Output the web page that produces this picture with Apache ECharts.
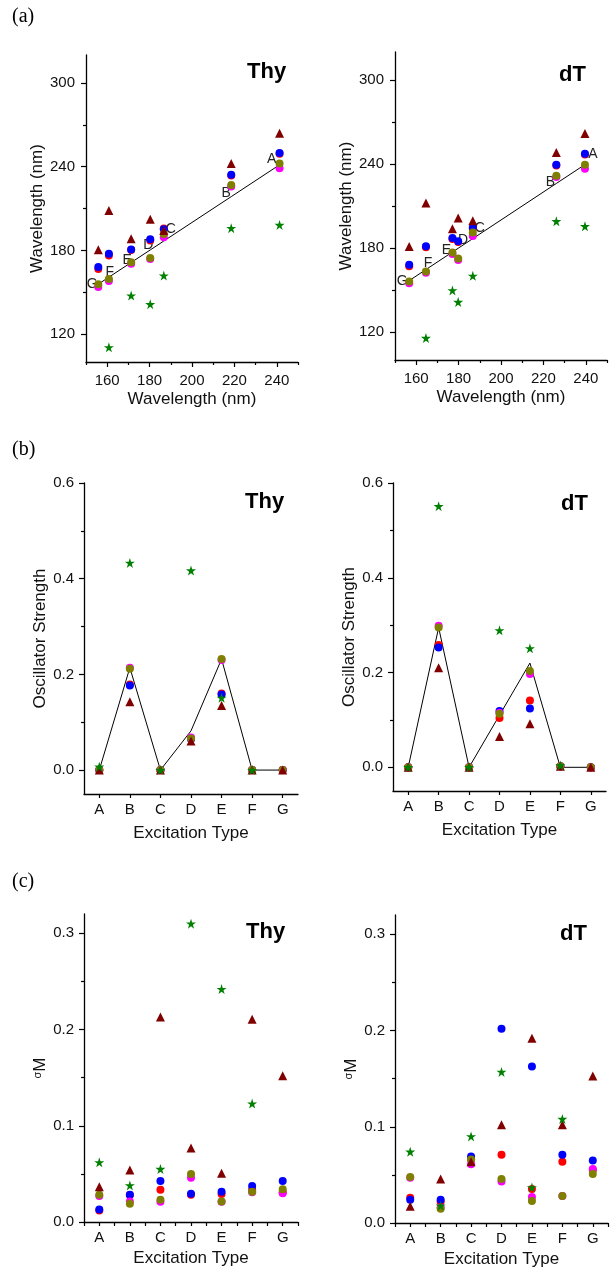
<!DOCTYPE html>
<html>
<head>
<meta charset="utf-8">
<script src="https://cdn.jsdelivr.net/npm/echarts@6.0.0/dist/echarts.min.js"></script>
<style>
html,body{margin:0;padding:0;background:#fff;}
#chart{width:610px;height:1268px;}
</style>
</head>
<body>
<div id="chart"></div>
<script>
// ---------- shared ----------
const cats = ['A', 'B', 'C', 'D', 'E', 'F', 'G'];

// ---------- (a) wavelengths (nm), order A..G ----------
const thyExpWl     = [241.3, 218.5, 186.7, 180.3, 171.3, 160.8, 155.8];
const thyWlRed     = [249.3, 233.6, 195.6, 187.0, 180.2, 176.4, 166.6];
const thyWlBlue    = [249.8, 234.1, 195.2, 188.0, 180.7, 177.6, 168.0];
const thyWlMagenta = [238.9, 225.8, 189.4, 173.8, 170.4, 158.1, 153.8];
const thyWlOlive   = [242.2, 226.8, 191.8, 174.5, 171.4, 159.5, 155.7];
const thyWlTri     = [263.9, 242.2, 194.2, 202.3, 188.3, 208.5, 180.4];
const thyWlStar    = [198.2, 195.9, 161.9, 141.4, 147.6, 110.5, null];

const dtExpWl      = [239.6, 226.1, 186.7, 179.8, 177.1, 164.6, 156.7];
const dtWlRed      = [246.8, 238.9, 193.8, 184.2, 186.5, 180.5, 167.0];
const dtWlBlue     = [247.3, 239.4, 194.6, 184.8, 187.2, 181.3, 168.0];
const dtWlMagenta  = [236.6, 230.7, 188.6, 171.5, 175.8, 162.3, 154.9];
const dtWlOlive    = [239.4, 231.6, 191.0, 172.5, 176.7, 163.2, 156.1];
const dtWlTri      = [261.8, 248.2, 199.5, 201.4, 193.8, 212.1, 181.0];
const dtWlStar     = [195.5, 199.1, 160.1, 141.4, 149.7, 115.7, null];

// ---------- (b) oscillator strength ----------
const thyOscExp     = [0, 0.214, 0, 0.082, 0.232, 0, 0];
const thyOscRed     = [0, 0.179, 0, 0.066, 0.160, 0, 0];
const thyOscBlue    = [0, 0.177, 0, 0.065, 0.158, 0, 0];
const thyOscMagenta = [0, 0.214, 0, 0.068, 0.230, 0, 0];
const thyOscOlive   = [0, 0.212, 0, 0.066, 0.232, 0, 0];
const thyOscTri     = [0, 0.143, 0, 0.061, 0.135, 0, 0];
const thyOscStar    = [0.007, 0.433, 0, 0.417, 0.151, 0, null];

const dtOscExp      = [0, 0.295, 0, 0.110, 0.220, 0, 0];
const dtOscRed      = [0, 0.258, 0, 0.104, 0.141, 0.002, 0];
const dtOscBlue     = [0, 0.253, 0, 0.119, 0.124, 0.002, 0];
const dtOscMagenta  = [0, 0.299, 0, 0.115, 0.197, 0.002, 0];
const dtOscOlive    = [0, 0.295, 0, 0.113, 0.203, 0.002, 0];
const dtOscTri      = [0, 0.210, 0, 0.065, 0.092, 0.002, 0];
const dtOscStar     = [0, 0.551, 0, 0.289, 0.251, 0.004, null];

// ---------- (c) sigma M ----------
const thySigRed     = [0.012, 0.028, 0.0335, 0.0283, 0.029, 0.0335, 0.031];
const thySigBlue    = [0.0131, 0.0283, 0.0425, 0.0293, 0.0314, 0.0373, 0.0425];
const thySigMagenta = [0.027, 0.0214, 0.021, 0.046, 0.021, 0.031, 0.030];
const thySigOlive   = [0.0283, 0.019, 0.023, 0.050, 0.0214, 0.0314, 0.034];
const thySigTri     = [0.0366, 0.054, 0.213, 0.077, 0.0507, 0.2106, 0.152];
const thySigStar    = [0.062, 0.038, 0.055, 0.310, 0.242, 0.123, null];

const dtSigRed      = [0.0263, 0.022, 0.066, 0.071, 0.0353, 0.0637, 0.055];
const dtSigBlue     = [0.0242, 0.0242, 0.069, 0.2017, 0.1626, 0.071, 0.065];
const dtSigMagenta  = [0.047, 0.016, 0.061, 0.043, 0.027, 0.028, 0.056];
const dtSigOlive    = [0.0478, 0.0149, 0.066, 0.0457, 0.0228, 0.028, 0.0509];
const dtSigTri      = [0.0173, 0.0457, 0.0637, 0.102, 0.192, 0.102, 0.1526];
const dtSigStar     = [0.074, 0.018, 0.090, 0.157, 0.037, 0.108, null];

// ---------- ticks ----------
const aMajorX = [160, 180, 200, 220, 240];
const aMinorX = [150, 170, 190, 210, 230, 250];
const aMajorY = [120, 180, 240, 300];
const aMinorY = [150, 210, 270];
const bMajorY = [0, 0.2, 0.4, 0.6];
const bMinorY = [0.1, 0.3, 0.5];
const cMajorY = [0, 0.1, 0.2, 0.3];
const cMinorY = [0.05, 0.15, 0.25];

// ---------- label offsets for letter tags in (a) (styling) ----------
const thyTagOffsets = [[-8, -6], [-5, -3], [7, -12], [-2, -5], [-4, -2], [1, -5], [-6, 0]];
const dtTagOffsets  = [[8, -10], [-6, -1], [7, -10], [5, -8], [-6, -2], [2, -6], [-7, 1]];

// ---------- build ----------
const SANS = 'Liberation Sans, Arial, Helvetica, sans-serif';
const AX = '#000';
const TXT = '#111';
const TICKFS = 15;
const COL = {red: '#ff0000', blue: '#0000ff', magenta: '#ff00ff', olive: '#808000', tri: '#800000', star: '#008000'};
const STAR = 'path://M50,0 L61.2,34.5 L97.6,34.5 L68.2,55.9 L79.4,90.5 L50,69.1 L20.6,90.5 L31.8,55.9 L2.4,34.5 L38.8,34.5 Z';

const option = {
  animation: false,
  backgroundColor: '#ffffff',
  textStyle: {fontFamily: SANS},
  grid: [], xAxis: [], yAxis: [], series: [], title: []
};

function addGrid(l, t, w, h) {
  option.grid.push({left: l, top: t, width: w, height: h, containLabel: false, outerBoundsMode: 'none'});
  return option.grid.length - 1;
}

function valueAxes(dim, gi, min, max, major, minor, fmt, name, nameGap, margin) {
  const arr = dim === 'x' ? option.xAxis : option.yAxis;
  const pos = dim === 'x' ? 'bottom' : 'left';
  arr.push({
    type: 'value', gridIndex: gi, min: min, max: max, position: pos,
    axisLine: {show: true, onZero: false, lineStyle: {color: AX, width: 1.3}},
    axisTick: {show: true, customValues: major, length: 5, lineStyle: {color: AX, width: 1.2}},
    axisLabel: {show: true, customValues: major, formatter: fmt, fontSize: TICKFS, color: TXT, margin: margin, fontFamily: SANS},
    splitLine: {show: false}, minorTick: {show: false},
    name: name, nameLocation: 'middle', nameGap: nameGap,
    nameTextStyle: {fontSize: 17, color: TXT, fontFamily: SANS,
      rich: {s: {fontSize: 11, verticalAlign: 'top', color: TXT, fontFamily: SANS}, m: {fontSize: 17, color: TXT, fontFamily: SANS}}}
  });
  const idx = arr.length - 1;
  arr.push({
    type: 'value', gridIndex: gi, min: min, max: max, position: pos,
    axisLine: {show: false, onZero: false},
    axisTick: {show: true, customValues: minor, length: 3, lineStyle: {color: AX, width: 1.2}},
    axisLabel: {show: false}, splitLine: {show: false}
  });
  return idx;
}

function catAxes(gi, boundaryTicks, name, nameGap) {
  option.xAxis.push({
    type: 'category', gridIndex: gi, data: cats, boundaryGap: true, position: 'bottom',
    axisLine: {show: true, onZero: false, lineStyle: {color: AX, width: 1.3}},
    axisTick: {show: true, alignWithLabel: true, interval: 0, length: 4, lineStyle: {color: AX, width: 1.2}},
    axisLabel: {interval: 0, fontSize: TICKFS, color: TXT, margin: 8, fontFamily: SANS},
    splitLine: {show: false},
    name: name, nameLocation: 'middle', nameGap: nameGap,
    nameTextStyle: {fontSize: 17, color: TXT, fontFamily: SANS}
  });
  const idx = option.xAxis.length - 1;
  if (boundaryTicks) {
    option.xAxis.push({
      type: 'category', gridIndex: gi, data: cats, boundaryGap: true, position: 'bottom',
      axisLine: {show: false, onZero: false},
      axisTick: {show: true, alignWithLabel: false, interval: 0, length: 4, lineStyle: {color: AX, width: 1.2}},
      axisLabel: {show: false}, splitLine: {show: false}
    });
  }
  return idx;
}

function scatter(xi, yi, data, kind) {
  let symbol = 'circle', size = 8;
  if (kind === 'tri') { symbol = 'triangle'; size = 9; }
  if (kind === 'star') { symbol = STAR; size = 10; }
  option.series.push({
    type: 'scatter', xAxisIndex: xi, yAxisIndex: yi, data: data,
    symbol: symbol, symbolSize: size, itemStyle: {color: COL[kind], opacity: 1},
    emphasis: {disabled: true}, silent: true
  });
}

function pairData(xs, ys) {
  const out = [];
  xs.forEach((x, i) => { if (ys[i] !== null && ys[i] !== undefined) out.push([x, ys[i]]); });
  return out;
}
function catData(ys) {
  return ys.map(v => (v === null || v === undefined) ? '-' : v);
}

function addTitle(text, left, top, font, size, weight) {
  option.title.push({text: text, left: left, top: top, padding: 0,
    textStyle: {fontFamily: font, fontSize: size, fontWeight: weight, color: '#000'}});
}

// ---------- panel (a) ----------
function panelA(l, t, w, h, exp, sets, offsets, yGap) {
  const gi = addGrid(l, t, w, h);
  const xi = valueAxes('x', gi, 150, 250, aMajorX, aMinorX, v => String(v), 'Wavelength (nm)', 29, 11);
  const yi = valueAxes('y', gi, 100, 320, aMajorY, aMinorY, v => String(v), 'Wavelength (nm)', yGap, 11);
  option.series.push({
    type: 'line', xAxisIndex: xi, yAxisIndex: yi,
    data: exp.map((x, i) => ({
      value: [x, x],
      label: {show: true, position: 'inside', offset: offsets[i], formatter: cats[i],
        fontSize: 14, color: '#222', fontFamily: SANS}
    })),
    symbol: 'circle', symbolSize: 1, showSymbol: true,
    itemStyle: {color: 'rgba(0,0,0,0)'},
    lineStyle: {color: '#000', width: 1}, silent: true, z: 1
  });
  scatter(xi, yi, pairData(exp, sets.red), 'red');
  scatter(xi, yi, pairData(exp, sets.blue), 'blue');
  scatter(xi, yi, pairData(exp, sets.magenta), 'magenta');
  scatter(xi, yi, pairData(exp, sets.olive), 'olive');
  scatter(xi, yi, pairData(exp, sets.tri), 'tri');
  scatter(xi, yi, pairData(exp, sets.star), 'star');
}

panelA(86, 55, 212, 307, thyExpWl,
  {red: thyWlRed, blue: thyWlBlue, magenta: thyWlMagenta, olive: thyWlOlive, tri: thyWlTri, star: thyWlStar},
  thyTagOffsets, 38);
panelA(395, 52, 212, 308, dtExpWl,
  {red: dtWlRed, blue: dtWlBlue, magenta: dtWlMagenta, olive: dtWlOlive, tri: dtWlTri, star: dtWlStar},
  dtTagOffsets, 37);

// ---------- panel (b) ----------
function panelB(l, t, w, h, exp, sets) {
  const gi = addGrid(l, t, w, h);
  const xi = catAxes(gi, false, 'Excitation Type', 31);
  const yi = valueAxes('y', gi, -0.05, 0.6, bMajorY, bMinorY, v => v.toFixed(1), 'Oscillator Strength', 31, 10);
  option.series.push({
    type: 'line', xAxisIndex: xi, yAxisIndex: yi, data: exp, symbol: 'none',
    lineStyle: {color: '#000', width: 1}, silent: true, z: 1
  });
  scatter(xi, yi, catData(sets.red), 'red');
  scatter(xi, yi, catData(sets.blue), 'blue');
  scatter(xi, yi, catData(sets.magenta), 'magenta');
  scatter(xi, yi, catData(sets.olive), 'olive');
  scatter(xi, yi, catData(sets.tri), 'tri');
  scatter(xi, yi, catData(sets.star), 'star');
}
panelB(84, 483, 214, 311, thyOscExp,
  {red: thyOscRed, blue: thyOscBlue, magenta: thyOscMagenta, olive: thyOscOlive, tri: thyOscTri, star: thyOscStar});
panelB(393, 483, 213, 308, dtOscExp,
  {red: dtOscRed, blue: dtOscBlue, magenta: dtOscMagenta, olive: dtOscOlive, tri: dtOscTri, star: dtOscStar});

// ---------- panel (c) ----------
function panelC(l, t, w, h, sets) {
  const gi = addGrid(l, t, w, h);
  const xi = catAxes(gi, true, 'Excitation Type', 28);
  const yi = valueAxes('y', gi, 0, 0.32, cMajorY, cMinorY, v => v.toFixed(1), '{s|σ}{m|M}', 31, 10);
  scatter(xi, yi, catData(sets.red), 'red');
  scatter(xi, yi, catData(sets.blue), 'blue');
  scatter(xi, yi, catData(sets.magenta), 'magenta');
  scatter(xi, yi, catData(sets.olive), 'olive');
  scatter(xi, yi, catData(sets.tri), 'tri');
  scatter(xi, yi, catData(sets.star), 'star');
}
panelC(84, 914, 214, 308,
  {red: thySigRed, blue: thySigBlue, magenta: thySigMagenta, olive: thySigOlive, tri: thySigTri, star: thySigStar});
panelC(395, 915, 213, 308,
  {red: dtSigRed, blue: dtSigBlue, magenta: dtSigMagenta, olive: dtSigOlive, tri: dtSigTri, star: dtSigStar});

// ---------- titles ----------
const SERIF = 'Liberation Serif, DejaVu Serif, serif';
addTitle('(a)', 12, 7, SERIF, 20, 'normal');
addTitle('(b)', 12, 440, SERIF, 20, 'normal');
addTitle('(c)', 12, 872, SERIF, 20, 'normal');
addTitle('Thy', 247, 61, SANS, 22, 'bold');
addTitle('dT', 559, 64, SANS, 22, 'bold');
addTitle('Thy', 245, 491, SANS, 22, 'bold');
addTitle('dT', 561, 493, SANS, 22, 'bold');
addTitle('Thy', 246, 921, SANS, 22, 'bold');
addTitle('dT', 560, 923, SANS, 22, 'bold');

const chart = echarts.init(document.getElementById('chart'), null, {renderer: 'canvas'});
chart.setOption(option);
</script>
</body>
</html>
